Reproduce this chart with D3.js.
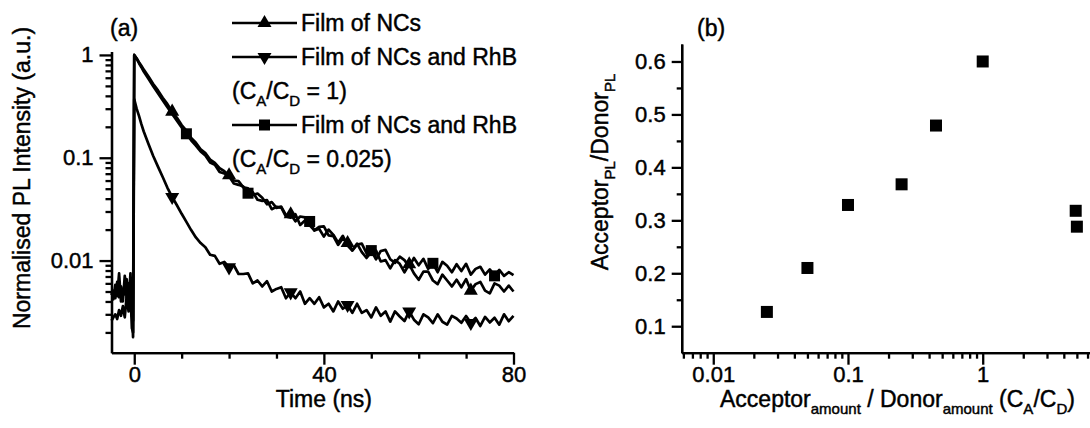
<!DOCTYPE html>
<meta charset="utf-8">
<style>
body { margin: 0; background: #fff; }
svg { font-family: "Liberation Sans", Arial, sans-serif; }
svg text { fill: #000; stroke: #000; stroke-width: 0.45px; }
.axis path, .axis line { stroke: #000; stroke-width: 2.3px; }
.axis text { font-size: 22px; }
.trace { fill: none; stroke: #000; stroke-width: 2.7px; stroke-linejoin: round; }
</style>
<svg width="1090" height="428"></svg>
<script src="https://d3js.org/d3.v7.min.js"></script>
<script>
// ---------- panel (a): PL decay traces ----------
var timeNs = [-4.8,-4.4,-4,-3.6,-3.2,-2.8,-2.4,-2,-1.6,-1.2,-0.8,-0.5,-0.25,
  0,0.5,1,1.5,2,3,4,5,6,7,8,9,10,11,12,13,14,15,16,17,18,19,
  20,21,22,23,24,25,26,27,28,29,30,31,32,33,34,35,36,37,38,39,
  40,41,42,43,44,45,46,47,48,49,50,51,52,53,54,55,56,57,58,59,
  60,61,62,63,64,65,66,67,68,69,70,71,72,73,74,75,76,77,78,79,80];

// Film of NCs
var filmNCs = [0.0046,0.0051,0.0043,0.0062,0.0044,0.0056,0.0040,0.0071,0.0043,0.0060,0.0034,0.0029,0.0026,
  1.0,0.93,0.85,0.785,
  0.72,0.618,0.522,0.452,0.383,0.332,0.281,0.245,0.208,0.184,0.156,0.140,0.121,0.111,0.096,0.089,0.079,0.074,
  0.0675,0.0601,0.0593,0.0515,0.0503,0.0434,0.0449,0.0408,0.0353,0.0371,
  0.0325,0.0335,0.0276,0.0282,0.0241,0.0268,0.0263,0.0220,0.0197,0.0213,
  0.0215,0.0176,0.0173,0.0142,0.0164,0.0148,0.0126,0.0146,0.0121,0.0106,
  0.0121,0.0125,0.0098,0.0101,0.0084,0.0101,0.0093,0.0077,0.0092,0.0075,
  0.0065,0.0078,0.0078,0.0064,0.0059,0.0073,0.0064,0.0056,0.0065,0.0055,
  0.0066,0.0051,0.0059,0.0062,0.0051,0.0048,0.0060,0.0057,0.0050,0.0057,0.0050];

// Film of NCs and RhB, CA/CD = 1
var filmRhB1 = [0.0050,0.0042,0.0058,0.0045,0.0075,0.0040,0.0052,0.0047,0.0066,0.0038,0.0075,0.0035,0.0018,
  0.37,0.30,0.255,0.212,
  0.18,0.136,0.104,0.082,0.065,0.051,0.0415,0.0345,0.0285,0.0238,0.0198,0.0168,0.0148,
  0.0135,0.0114,0.0111,0.0093,0.0097,
  0.0086,0.0090,0.0074,0.0074,0.0075,0.0060,0.0064,0.0056,0.0063,0.0050,
  0.0053,0.0055,0.0043,0.0049,0.0043,0.0050,0.0038,0.0043,0.0038,0.0044,
  0.0035,0.0038,0.0032,0.0040,0.0034,0.0037,0.0031,0.0038,0.0031,0.0033,
  0.0028,0.0035,0.0029,0.0032,0.00255,0.0032,0.00286,0.00258,0.0032,0.00266,
  0.0024,0.0030,0.0028,0.00246,0.0030,0.00254,0.00238,0.0029,0.00273,0.00248,
  0.00289,0.00247,0.00276,0.00231,0.00283,0.0025,0.00278,0.00238,0.0030,0.00257,0.0029];

// Film of NCs and RhB, CA/CD = 0.025
var filmRhB0025 = [0.0026,0.0028,0.0030,0.0027,0.0033,0.0029,0.0036,0.0028,0.0045,0.0032,0.0050,0.0022,0.0020,
  1.0,0.92,0.83,0.76,
  0.69,0.585,0.495,0.425,0.362,0.31,0.266,0.229,0.197,0.171,0.148,0.131,0.115,
  0.105,0.090,0.0855,0.0728,0.0704,
  0.066,0.0562,0.0545,0.0525,0.0452,0.0463,0.039,0.0381,0.0387,0.0316,
  0.0333,0.0329,0.0268,0.0261,0.0282,0.0222,0.0245,0.0240,0.0196,0.0204,
  0.0171,0.0200,0.0178,0.0149,0.0174,0.0140,0.0125,0.0143,0.0146,0.0118,
  0.0125,0.0103,0.0124,0.0127,0.0103,0.0095,0.0109,0.0101,0.0087,0.0106,
  0.0090,0.0104,0.0083,0.0094,0.0077,0.0097,0.0089,0.0077,0.0092,0.0079,
  0.0093,0.0073,0.0083,0.0087,0.0073,0.0082,0.0071,0.0081,0.0071,0.0077,0.0072];

// times at which the plot symbols sit
var markNCs = [8, 20, 33, 45, 58, 71];
var markRhB1 = [8, 20, 33, 45, 58, 71];
var markRhB0025 = [11, 24, 37, 50, 63, 76];

var timeTicks = [0, 40, 80];
var timeMinor = [10, 20, 30, 50, 60, 70];
var plTicks = [0.01, 0.1, 1];

// ---------- panel (b): acceptor / donor PL ratio ----------
var ratioCACD = [0.025, 0.05, 0.1, 0.25, 0.45, 1, 4.9, 5];
var ratioPL = [0.127, 0.21, 0.329, 0.368, 0.479, 0.6, 0.318, 0.288];
var ratioXTicks = [0.01, 0.1, 1];
var ratioYTicks = [0.1, 0.2, 0.3, 0.4, 0.5, 0.6];
var ratioYMinor = [0.15, 0.25, 0.35, 0.45, 0.55];

var svg = d3.select("svg");

// ===== panel (a) =====
var xA = d3.scaleLinear().domain([-4.8, 80]).range([111.5, 513.5]);
var yA = d3.scaleLog().domain([0.00127, 1.08]).range([352.7, 51.5]);

function logMinors(scale) {
  var lo = scale.domain()[0], hi = scale.domain()[1], out = [];
  for (var e = -4; e <= 1; e++) {
    for (var m = 2; m <= 9; m++) {
      var v = m * Math.pow(10, e);
      if (v >= lo && v <= hi) out.push(v);
    }
  }
  return out;
}

var gA = svg.append("g");

gA.append("g").attr("class", "axis")
    .attr("transform", "translate(0," + yA.range()[0] + ")")
    .call(d3.axisBottom(xA).tickValues(timeTicks).tickSize(12).tickSizeOuter(0).tickPadding(2).tickFormat(d3.format("d")));
gA.append("g").attr("class", "axis")
    .attr("transform", "translate(0," + yA.range()[0] + ")")
    .call(d3.axisBottom(xA).tickValues(timeMinor).tickSize(6).tickSizeOuter(0).tickFormat(""));

gA.append("g").attr("class", "axis")
    .attr("transform", "translate(" + xA.range()[0] + ",0)")
    .call(d3.axisLeft(yA).tickValues(plTicks).tickSize(12).tickSizeOuter(0).tickPadding(6).tickFormat(function(d) { return String(d); }));
gA.append("g").attr("class", "axis")
    .attr("transform", "translate(" + xA.range()[0] + ",0)")
    .call(d3.axisLeft(yA).tickValues(logMinors(yA)).tickSize(6).tickSizeOuter(0).tickFormat(""));

var line = d3.line()
    .x(function(d) { return xA(d[0]); })
    .y(function(d) { return yA(d[1]); });

var seriesA = [
  { values: filmNCs, marks: markNCs, sym: "up" },
  { values: filmRhB0025, marks: markRhB0025, sym: "square" },
  { values: filmRhB1, marks: markRhB1, sym: "down" }
];

var triangle = d3.symbol().type(d3.symbolTriangle).size(85);

function drawSymbol(g, kind, cx, cy) {
  if (kind === "square") {
    g.append("rect").attr("x", cx - 5.5).attr("y", cy - 5.5)
      .attr("width", 11).attr("height", 11).attr("fill", "#000");
  } else {
    g.append("path").attr("d", triangle())
      .attr("transform", "translate(" + cx + "," + cy + ")" + (kind === "down" ? " rotate(180)" : ""))
      .attr("fill", "#000");
  }
}

seriesA.forEach(function(s) {
  var pts = timeNs.map(function(t, i) { return [t, s.values[i]]; });
  gA.append("path").attr("class", "trace").attr("d", line(pts));
  s.marks.forEach(function(t) {
    var i = timeNs.indexOf(t);
    drawSymbol(gA, s.sym, xA(t), yA(s.values[i]));
  });
});

// legend
var legend = gA.append("g");
var legRows = [
  { y: 23, sym: "up", text: "Film of NCs" },
  { y: 57, sym: "down", text: "Film of NCs and RhB" },
  { y: 125, sym: "square", text: "Film of NCs and RhB" }
];
legRows.forEach(function(r) {
  legend.append("line").attr("x1", 232).attr("x2", 297).attr("y1", r.y).attr("y2", r.y)
    .attr("stroke", "#000").attr("stroke-width", 2.7);
  drawSymbol(legend, r.sym, 264.5, r.y);
  legend.append("text").attr("x", 301).attr("y", r.y + 8).attr("font-size", 23).text(r.text);
});

function ratioText(g, x, y, value) {
  var t = g.append("text").attr("x", x).attr("y", y).attr("font-size", 23);
  t.append("tspan").text("(C");
  t.append("tspan").attr("font-size", 15).attr("dy", 7).text("A");
  t.append("tspan").attr("dy", -7).text("/C");
  t.append("tspan").attr("font-size", 15).attr("dy", 7).text("D");
  t.append("tspan").attr("dy", -7).text(" = " + value + ")");
}
ratioText(legend, 232, 99, "1");
ratioText(legend, 232, 167, "0.025");

gA.append("text").attr("x", 110).attr("y", 36).attr("font-size", 23).text("(a)");

gA.append("text").attr("x", xA(40)).attr("y", 407).attr("text-anchor", "middle")
    .attr("font-size", 23).text("Time (ns)");

gA.append("text").attr("transform", "translate(30,178) rotate(-90)")
    .attr("text-anchor", "middle").attr("font-size", 23).text("Normalised PL Intensity (a.u.)");

// ===== panel (b) =====
var xB = d3.scaleLog().domain([0.00583, 6.7]).range([681.7, 1094]);
var yB = d3.scaleLinear().domain([0.05, 0.633]).range([352.7, 44]);

var gB = svg.append("g");

gB.append("g").attr("class", "axis")
    .attr("transform", "translate(0," + yB.range()[0] + ")")
    .call(d3.axisBottom(xB).tickValues(ratioXTicks).tickSize(12).tickSizeOuter(0).tickPadding(2).tickFormat(function(d) { return String(d); }));
gB.append("g").attr("class", "axis")
    .attr("transform", "translate(0," + yB.range()[0] + ")")
    .call(d3.axisBottom(xB).tickValues(logMinors(xB)).tickSize(6).tickSizeOuter(0).tickFormat(""));

gB.append("g").attr("class", "axis")
    .attr("transform", "translate(" + xB.range()[0] + ",0)")
    .call(d3.axisLeft(yB).tickValues(ratioYTicks).tickSize(10).tickSizeOuter(0).tickPadding(6).tickFormat(d3.format(".1f")));
gB.append("g").attr("class", "axis")
    .attr("transform", "translate(" + xB.range()[0] + ",0)")
    .call(d3.axisLeft(yB).tickValues(ratioYMinor).tickSize(5).tickSizeOuter(0).tickFormat(""));

gB.selectAll("rect.pt")
  .data(ratioCACD)
  .enter().append("rect")
    .attr("class", "pt")
    .attr("x", function(d) { return xB(d) - 6; })
    .attr("y", function(d, i) { return yB(ratioPL[i]) - 6; })
    .attr("width", 12).attr("height", 12)
    .attr("fill", "#000");

gB.append("text").attr("x", 697).attr("y", 36).attr("font-size", 23).text("(b)");

var xl = gB.append("text").attr("x", 720).attr("y", 407).attr("font-size", 23);
xl.append("tspan").text("Acceptor");
xl.append("tspan").attr("font-size", 15).attr("dy", 7).text("amount");
xl.append("tspan").attr("dy", -7).text(" / Donor");
xl.append("tspan").attr("font-size", 15).attr("dy", 7).text("amount");
xl.append("tspan").attr("dy", -7).text(" (C");
xl.append("tspan").attr("font-size", 15).attr("dy", 7).text("A");
xl.append("tspan").attr("dy", -7).text("/C");
xl.append("tspan").attr("font-size", 15).attr("dy", 7).text("D");
xl.append("tspan").attr("dy", -7).text(")");

var yl = gB.append("text").attr("transform", "translate(608,172) rotate(-90)")
    .attr("text-anchor", "middle").attr("font-size", 23);
yl.append("tspan").text("Acceptor");
yl.append("tspan").attr("font-size", 15).attr("dy", 7).text("PL");
yl.append("tspan").attr("dy", -7).text("/Donor");
yl.append("tspan").attr("font-size", 15).attr("dy", 7).text("PL");
</script>
